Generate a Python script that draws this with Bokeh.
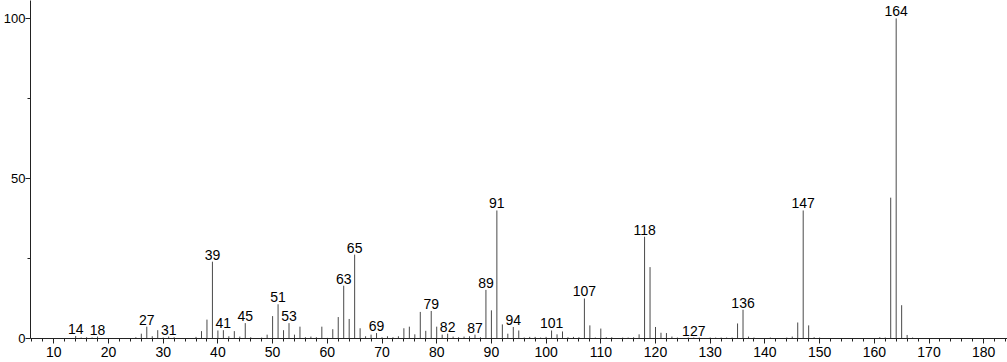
from bokeh.plotting import figure
from bokeh.models import Range1d, FixedTicker, ColumnDataSource
from bokeh.core.properties import value
from bokeh.embed import file_html
from bokeh.resources import INLINE

masses = [14, 15, 16, 17, 18, 25, 26, 27, 28, 29, 30, 31, 32, 36, 37, 38, 39, 40,
          41, 42, 43, 44, 45, 46, 48, 49, 50, 51, 52, 53, 54, 55, 56, 57, 58, 59,
          60, 61, 62, 63, 64, 65, 66, 67, 68, 69, 70, 71, 72, 73, 74, 75, 76, 77,
          78, 79, 80, 81, 82, 83, 84, 85, 86, 87, 88, 89, 90, 91, 92, 93, 94, 95,
          96, 97, 98, 99, 100, 101, 102, 103, 104, 105, 106, 107, 108, 109, 110,
          111, 112, 114, 115, 116, 117, 118, 119, 120, 121, 122, 123, 124, 126,
          127, 128, 130, 131, 132, 133, 134, 135, 136, 137, 138, 141, 144, 145,
          146, 147, 148, 149, 150, 161, 162, 163, 164, 165, 166, 167]
intensities = [0.8, 0.3, 0.4, 0.3, 0.6, 0.4, 1.5, 3.7, 0.7, 2.6, 0.3, 0.6, 0.4, 0.5,
               2.3, 5.9, 24.0, 2.5, 2.6, 0.7, 2.3, 0.6, 4.8, 0.4, 0.3, 1.2, 7.0,
               10.7, 2.6, 4.8, 1.2, 3.7, 0.4, 0.6, 0.4, 3.7, 0.2, 2.9, 6.7, 16.5,
               6.1, 26.2, 3.2, 0.7, 1.2, 1.7, 0.4, 0.7, 0.4, 0.7, 3.2, 3.7, 1.3,
               8.3, 2.4, 8.6, 3.7, 1.2, 1.5, 0.6, 0.4, 0.6, 0.7, 1.2, 0.4, 15.2,
               8.8, 40.0, 4.4, 1.5, 3.6, 2.5, 0.3, 0.5, 0.5, 0.3, 0.5, 2.5, 1.3,
               2.2, 0.4, 0.5, 0.4, 12.5, 4.1, 0.3, 3.1, 0.4, 0.4, 0.3, 0.3, 0.4,
               1.3, 31.8, 22.3, 3.6, 1.8, 1.7, 0.6, 0.3, 0.3, 0.3, 0.3, 0.3, 0.3,
               0.3, 0.3, 0.3, 4.7, 9.0, 0.6, 0.3, 0.3, 0.3, 0.6, 5.0, 40.0, 4.1,
               0.4, 0.3, 0.4, 0.3, 44.0, 100.0, 10.4, 1.1, 0.3]
labeled_masses = [14, 18, 27, 31, 39, 41, 45, 51, 53, 63, 65, 69, 79, 82, 87, 89,
                  91, 94, 101, 107, 118, 127, 136, 147, 164]
x_ticks = list(range(10, 190, 10))
x_minor = list(range(6, 186, 2))
y_ticks = [0, 50, 100]
y_minor = [25, 75]

FONT = "Liberation Sans"

p = figure(width=1007, height=362, output_backend="svg", toolbar_location=None,
           x_range=Range1d(5.74, 184.35), y_range=Range1d(0, 105.6),
           min_border_left=30, min_border_right=0, min_border_top=0,
           min_border_bottom=24)
p.outline_line_color = None
p.xgrid.visible = False
p.ygrid.visible = False
p.background_fill_color = "white"
p.border_fill_color = "white"

src = ColumnDataSource(dict(x=masses, y0=[0] * len(masses), y1=intensities))
p.segment(x0="x", y0="y0", x1="x", y1="y1", source=src, line_color="#4a4a4a",
          line_width=1)

inten_map = dict(zip(masses, intensities))
lab = ColumnDataSource(dict(x=labeled_masses,
                            y=[inten_map[m] for m in labeled_masses],
                            t=[str(m) for m in labeled_masses]))
p.text(x="x", y="y", text="t", source=lab, text_align="center",
       text_baseline="bottom", y_offset=-2, text_font=value(FONT),
       text_font_size="14px", text_color="black")

xa = p.xaxis[0]
xa.ticker = FixedTicker(ticks=x_ticks, minor_ticks=x_minor)
ya = p.yaxis[0]
ya.ticker = FixedTicker(ticks=y_ticks, minor_ticks=y_minor)
for ax in (xa, ya):
    ax.axis_line_color = "#222222"
    ax.major_tick_line_color = "#222222"
    ax.minor_tick_line_color = "#222222"
    ax.major_tick_in = 0
    ax.minor_tick_in = 0
    ax.major_label_text_font = FONT
    ax.major_label_text_color = "black"
xa.major_label_text_font_size = "14px"
ya.major_label_text_font_size = "13px"
xa.major_tick_out = 5
xa.minor_tick_out = 3
xa.major_label_standoff = 3
ya.major_tick_out = 5
ya.minor_tick_out = 3
ya.major_label_standoff = 0

open("out.html", "w").write(file_html(p, INLINE))
